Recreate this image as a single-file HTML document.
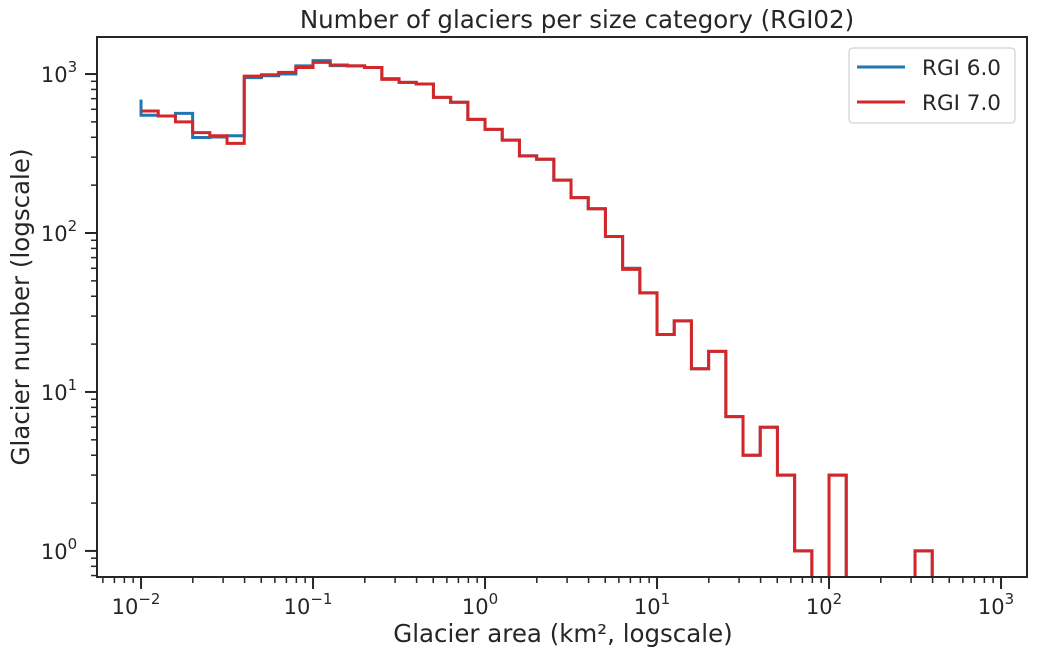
<!DOCTYPE html>
<html><head><meta charset="utf-8"><style>
html,body{margin:0;background:#fff;overflow:hidden;width:1037px;height:658px;}
svg{display:block;}
svg text{font-family:"DejaVu Sans","Liberation Sans",sans-serif;fill:#262626;}
</style></head><body>
<svg id="chart" width="1037" height="658" xmlns="http://www.w3.org/2000/svg"></svg>
<script>
// bins: 10 per decade starting at 10^-2
const binStartExp = -2;
const binsPerDecade = 10;
const rgi6Counts = [550,545,566,399,402,409,950,975,1000,1125,1215,1130,1125,1100,935,887,865,713,664,519,449,384,306,291,215,167,142,95,60,42,23,28,14,18,7,4,6,3,1,0,3,0,0,0,0,1,0,0,0,0];
const rgi7Counts = [585,545,500,428,409,366,971,990,1025,1100,1185,1140,1125,1100,926,887,865,713,664,519,449,384,305,291,215,167,142,95,59,42,23,28,14,18,7,4,6,3,1,0,3,0,0,0,0,1,0,0,0,0];
const rgi6StartValue = 690;
const xTickExps = [-2,-1,0,1,2,3];
const yTickExps = [0,1,2,3];
const seriesNames = ["RGI 6.0","RGI 7.0"];

const L=97,R=1027,T=37,B=577;
const xMinE=-2.256,xMaxE=3.151,yMinE=-0.164,yMaxE=3.233;
const xs=e=>L+(e-xMinE)/(xMaxE-xMinE)*(R-L);
const ys=v=>v<=0?700:B-(Math.log10(v)-yMinE)/(yMaxE-yMinE)*(B-T);
const NS="http://www.w3.org/2000/svg";
const svg=document.getElementById('chart');
function mk(tag,attrs,parent){const el=document.createElementNS(NS,tag);for(const k in attrs)el.setAttribute(k,attrs[k]);(parent||svg).appendChild(el);return el;}

const defs=mk('defs',{});
const cp=mk('clipPath',{id:'clip'},defs);
mk('rect',{x:L,y:T,width:R-L,height:B-T},cp);

function stepPath(counts,startVal){
  let d='';
  const x0=xs(binStartExp);
  d+= startVal!==undefined ? `M${x0},${ys(startVal)} L${x0},${ys(counts[0])}` : `M${x0},${ys(counts[0])}`;
  counts.forEach((c,i)=>{
    const xa=xs(binStartExp+i/binsPerDecade), xb=xs(binStartExp+(i+1)/binsPerDecade);
    d+=` L${xa},${ys(c)} L${xb},${ys(c)}`;
  });
  return d;
}
const g=mk('g',{'clip-path':'url(#clip)'});
const p6=mk('path',{d:stepPath(rgi6Counts,rgi6StartValue),fill:'none',stroke:'#1f77b4','stroke-width':3},g);


const p7=mk('path',{d:stepPath(rgi7Counts),fill:'none',stroke:'#d62728','stroke-width':3},g);



const fr=mk('rect',{x:L,y:T,width:R-L,height:B-T,fill:'none',stroke:'#262626','stroke-width':2});



for(let e=-3;e<=3;e++){for(let m=1;m<10;m++){const ex=e+Math.log10(m);if(ex<xMinE||ex>xMaxE)continue;
  const x=xs(ex);const len=m===1?12:6;const w=m===1?2:1.5;
  mk('line',{x1:x,x2:x,y1:B,y2:B+len,stroke:'#262626','stroke-width':w});}}
xTickExps.forEach(e=>{const t=mk('text',{x:xs(e)-5,y:B+37,'font-size':21,'text-anchor':'middle'});
  
  
  t.textContent='10';const s=mk('tspan',{dy:-10,'font-size':15},t);s.textContent=(e<0?'\u2212':'')+Math.abs(e);});
for(let e=-1;e<=3;e++){for(let m=1;m<10;m++){const ex=e+Math.log10(m);if(ex<yMinE||ex>yMaxE)continue;
  const y=ys(Math.pow(10,ex));const len=m===1?12:6;const w=m===1?2:1.5;
  mk('line',{x1:L-len,x2:L,y1:y,y2:y,stroke:'#262626','stroke-width':w});}}
yTickExps.forEach(e=>{const t=mk('text',{x:L-38,y:ys(Math.pow(10,e))+8,'font-size':21,'text-anchor':'middle'});
  
  
  t.textContent='10';const s=mk('tspan',{dy:-10,'font-size':15},t);s.textContent=e;});

const ti=mk('text',{x:(L+R)/2+15,y:28,'font-size':24.5,'text-anchor':'middle'});


ti.textContent='Number of glaciers per size category (RGI02)';
const xt=mk('text',{x:563,y:642,'font-size':24.5,'text-anchor':'middle'});


xt.textContent='Glacier area (km², logscale)';
const yt=mk('text',{x:0,y:0,'font-size':24.5,'text-anchor':'middle',transform:`translate(29,${(T+B)/2}) rotate(-90)`});


yt.textContent='Glacier number (logscale)';

const lg=mk('g',{});


mk('rect',{x:849,y:48,width:166,height:75,rx:4,fill:'#fff',stroke:'#d0d0d0','stroke-width':1.2},lg);
['#1f77b4','#d62728'].forEach((c,i)=>{
  const y=67+i*35;
  const e=mk('g',{},lg);
  
  
  mk('line',{x1:857,x2:905,y1:y,y2:y,stroke:c,'stroke-width':3},e);
  const t=mk('text',{x:922,y:y+8,'font-size':21.5},e);t.textContent=seriesNames[i];
});
</script>
</body></html>
